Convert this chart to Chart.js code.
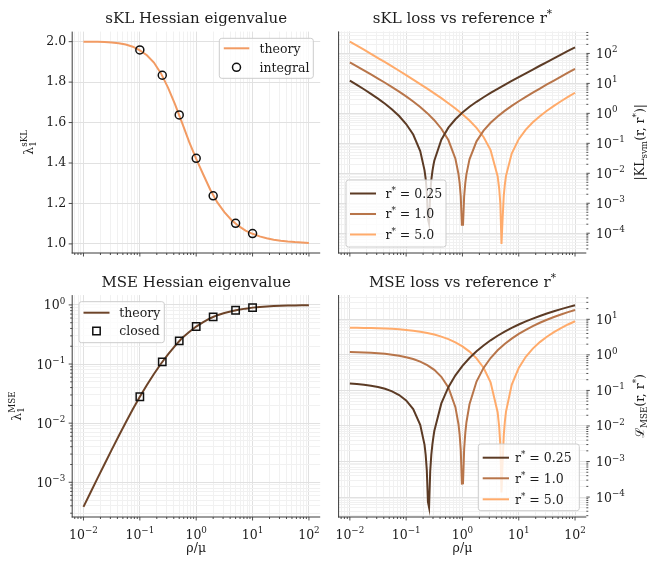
<!DOCTYPE html>
<html><head><meta charset="utf-8">
<script src="https://cdn.jsdelivr.net/npm/chart.js@4.4.1/dist/chart.umd.min.js"></script>
<style>
html,body{margin:0;padding:0;background:#ffffff;}
#wrap{position:relative;width:647px;height:563px;overflow:hidden;background:#fff;}
#wrap canvas{position:absolute;left:0;top:0;}
</style></head>
<body><div id="wrap">
<canvas id="cTL" width="647" height="563"></canvas>
<canvas id="cTR" width="647" height="563"></canvas>
<canvas id="cBL" width="647" height="563"></canvas>
<canvas id="cBR" width="647" height="563"></canvas>
</div>
<script>
// ---------------- data ----------------
const rhoGrid = [0.01, 0.01334, 0.01778, 0.02371, 0.03162, 0.04217, 0.05623, 0.07499, 0.1, 0.1334, 0.1778, 0.2371, 0.3162, 0.4217, 0.5623, 0.7499, 1, 1.334, 1.778, 2.371, 3.162, 4.217, 5.623, 7.499, 10, 13.34, 17.78, 23.71, 31.62, 42.17, 56.23, 74.99, 100];
const lamSKLTheory = [2.000, 1.999, 1.999, 1.998, 1.996, 1.992, 1.986, 1.975, 1.957, 1.933, 1.897, 1.843, 1.773, 1.690, 1.598, 1.505, 1.420, 1.343, 1.268, 1.205, 1.157, 1.118, 1.089, 1.066, 1.050, 1.037, 1.028, 1.021, 1.016, 1.012, 1.009, 1.007, 1.005];
const lamMSETheory = [0.000384, 0.000673, 0.001175, 0.00204, 0.00353, 0.00605, 0.01028, 0.01718, 0.028, 0.0442, 0.0679, 0.1012, 0.1452, 0.2032, 0.2748, 0.3483, 0.4305, 0.5105, 0.5957, 0.6699, 0.7295, 0.7816, 0.826, 0.865, 0.900, 0.925, 0.944, 0.958, 0.968, 0.976, 0.982, 0.987, 0.990];
const rhoMarkers = [0.1, 0.25, 0.5, 1, 2, 5, 10];
const lamSKLIntegral = [1.959, 1.834, 1.638, 1.423, 1.238, 1.102, 1.051];
const lamMSEClosed = [0.028, 0.109, 0.247, 0.431, 0.627, 0.813, 0.902];

const refValues = ['0.25', '1.0', '5.0'];

const rhoRef025 = [0.01, 0.01334, 0.01778, 0.02371, 0.03162, 0.04217, 0.05623, 0.07499, 0.1, 0.1334, 0.1778, 0.2122, 0.2222, 0.2327, 0.2437, 0.2553, 0.2674, 0.2800, 0.2933, 0.3072, 0.3162, 0.4217, 0.5623, 0.7499, 1, 1.334, 1.778, 2.371, 3.162, 4.217, 5.623, 7.499, 10, 13.34, 17.78, 23.71, 31.62, 42.17, 56.23, 74.99, 100];
const sklRef025 = [12.3, 8.90, 6.37, 4.49, 3.11, 2.09, 1.35, 0.817, 0.441, 0.196, 0.0551, 0.01254, 0.00646, 0.00238, 0.000298, 0.000204, 0.0021, 0.006, 0.01197, 0.02004, 0.0261, 0.1328, 0.333, 0.636, 1.069, 1.655, 2.43, 3.455, 4.8, 6.57, 8.94, 12.06, 16.16, 21.71, 29.05, 38.8, 51.7, 68.4, 90.9, 120.8, 159.3];
const mseRef025 = [0.1572, 0.1519, 0.145, 0.1362, 0.1252, 0.1112, 0.0942, 0.0744, 0.0523, 0.02996, 0.01073, 0.00294, 0.001535, 0.000574, 0.0000731, 0.0000507, 0.000532, 0.001556, 0.00316, 0.00539, 0.00721, 0.0431, 0.1235, 0.266, 0.4894, 0.8132, 1.2566, 1.8374, 2.567, 3.454, 4.507, 5.733, 7.136, 8.721, 10.487, 12.433, 14.558, 16.862, 19.344, 22.005, 24.842];

const rhoRef1 = [0.01, 0.01334, 0.01778, 0.02371, 0.03162, 0.04217, 0.05623, 0.07499, 0.1, 0.1334, 0.1778, 0.2371, 0.3162, 0.4217, 0.5623, 0.7499, 0.8504, 0.8907, 0.9329, 0.9771, 1.0234, 1.0719, 1.1227, 1.1759, 1.334, 1.778, 2.371, 3.162, 4.217, 5.623, 7.499, 10, 13.34, 17.78, 23.71, 31.62, 42.17, 56.23, 74.99, 100];
const sklRef1 = [50.5, 37.2, 27.4, 20.0, 14.53, 10.5, 7.52, 5.31, 3.69, 2.49, 1.634, 1.018, 0.591, 0.307, 0.1285, 0.0307, 0.00945, 0.00479, 0.001716, 0.00019, 0.00019, 0.001706, 0.00472, 0.00924, 0.0292, 0.1166, 0.2656, 0.484, 0.791, 1.207, 1.774, 2.531, 3.538, 4.909, 6.746, 9.19, 12.46, 16.81, 22.8, 30.7];
const mseRef1 = [1.2014, 1.1866, 1.1673, 1.1421, 1.1096, 1.0673, 1.0132, 0.9456, 0.8617, 0.7616, 0.6451, 0.5152, 0.3779, 0.2421, 0.1212, 0.03378, 0.01121, 0.00582, 0.002128, 0.0002405, 0.0002436, 0.002229, 0.0063, 0.01256, 0.04089, 0.1776, 0.4302, 0.8147, 1.3433, 2.0261, 2.872, 3.888, 5.079, 6.446, 7.989, 9.709, 11.606, 13.68, 15.931, 18.358];

const rhoRef5 = [0.01, 0.01334, 0.01778, 0.02371, 0.03162, 0.04217, 0.05623, 0.07499, 0.1, 0.1334, 0.1778, 0.2371, 0.3162, 0.4217, 0.5623, 0.7499, 1, 1.334, 1.778, 2.371, 3.162, 4.217, 4.5003, 4.7137, 4.9371, 5.1709, 5.416, 5.6726, 5.9411, 7.499, 10, 13.34, 17.78, 23.71, 31.62, 42.17, 56.23, 74.99, 100];
const sklRef5 = [249, 182.8, 133.3, 97.1, 70.2, 51.0, 36.7, 26.4, 18.85, 13.41, 9.48, 6.65, 4.65, 3.21, 2.17, 1.446, 0.936, 0.58, 0.33, 0.1632, 0.0593, 0.00798, 0.00304, 0.000956, 0.0000441, 0.000311, 0.001756, 0.00438, 0.00821, 0.0458, 0.1375, 0.2855, 0.502, 0.805, 1.219, 1.779, 2.531, 3.533, 4.874];
const mseRef5 = [5.814, 5.781, 5.738, 5.682, 5.61, 5.514, 5.39, 5.233, 5.033, 4.786, 4.487, 4.133, 3.724, 3.266, 2.767, 2.247, 1.7295, 1.2385, 0.7987, 0.4345, 0.1702, 0.02437, 0.00922, 0.0029, 0.0001347, 0.000952, 0.0054, 0.01352, 0.02536, 0.1441, 0.4313, 0.8808, 1.4974, 2.2843, 3.243, 4.375, 5.681, 7.163, 8.818];

// tick labels ("base^exponent")
const xTickValues = [0.01, 0.1, 1, 10, 100];
const xTickLabels = ['10^−2', '10^−1', '10^0', '10^1', '10^2'];
const lossTickValues = [1e-4, 1e-3, 1e-2, 1e-1, 1, 10, 100];
const lossTickLabels = ['10^−4', '10^−3', '10^−2', '10^−1', '10^0', '10^1', '10^2'];
const mseEigTickValues = [1e-3, 1e-2, 1e-1, 1];
const mseEigTickLabels = ['10^−3', '10^−2', '10^−1', '10^0'];
const sklEigTickValues = [1.0, 1.2, 1.4, 1.6, 1.8, 2.0];
const sklEigTickLabels = ['1.0', '1.2', '1.4', '1.6', '1.8', '2.0'];

// ---------------- styles ----------------
const FONT = '"DejaVu Serif", "Liberation Serif", serif';
const TXT = '#1c1c1c';
const SPINE = '#3a3a3a';
const GRID_MAJOR = '#e1e1e1';
const GRID_MINOR = '#f1f1f1';
const C_SKL = '#f29b63';
const C_MSE = '#6d4429';
const C_REF = ['#5c3b25', '#b8754a', '#ffab6b'];
const FS = 12.5, FS_SMALL = 8.75, FS_TITLE = 15;
const X_MIN = 0.00631, X_MAX = 158.5;

const pts = (xs, ys) => xs.map((x, i) => ({ x: x, y: ys[i] }));
function labelFor(values, labels) {
  return v => {
    const i = values.findIndex(t => Math.abs(t - v) <= 1e-6 * Math.abs(t));
    return i >= 0 ? labels[i] : '';
  };
}
function logTickObjs(min, max) {
  const out = [];
  for (let k = Math.floor(Math.log10(min)); k <= Math.floor(Math.log10(max)); k++) {
    for (let m = 1; m <= 9; m++) {
      const v = m * Math.pow(10, k);
      if (v >= min && v <= max) out.push({ value: v, minor: m !== 1 });
    }
  }
  return out;
}
function strokeLine(c, x1, y1, x2, y2) { c.beginPath(); c.moveTo(x1, y1); c.lineTo(x2, y2); c.stroke(); }
function drawRich(c, runs, x, y, align, rot) {
  c.save();
  c.translate(x, y);
  if (rot) c.rotate(rot);
  c.fillStyle = TXT; c.textBaseline = 'alphabetic'; c.textAlign = 'left';
  const ws = runs.map(r => { c.font = (r.s || FS) + 'px ' + FONT; return c.measureText(r.t).width; });
  let total = 0;
  runs.forEach((r, i) => { if (!r.hold) total += ws[i]; });
  let cx = align === 'center' ? -total / 2 : (align === 'right' ? -total : 0);
  runs.forEach((r, i) => {
    c.font = (r.s || FS) + 'px ' + FONT;
    c.fillText(r.t, cx, r.dy || 0);
    if (!r.hold) cx += ws[i];
  });
  c.restore();
}
function powRuns(label) {
  const parts = label.split('^');
  return parts.length === 2 ? [{ t: parts[0] }, { t: parts[1], s: FS_SMALL, dy: -5.5 }] : [{ t: label }];
}
function legendBox(c, x, y, w, h) {
  c.save();
  c.beginPath();
  c.roundRect(x, y, w, h, 2.5);
  c.fillStyle = 'rgba(255,255,255,0.8)';
  c.fill();
  c.strokeStyle = '#cccccc'; c.lineWidth = 1;
  c.stroke();
  c.restore();
}
function lineSample(c, x1, x2, y, color) {
  c.save(); c.strokeStyle = color; c.lineWidth = 2; strokeLine(c, x1, y, x2, y); c.restore();
}
function markerSample(c, x, y, style) {
  c.save(); c.strokeStyle = '#111'; c.lineWidth = 1.5; c.beginPath();
  if (style === 'rect') c.rect(x - 3.7, y - 3.7, 7.4, 7.4); else c.arc(x, y, 4, 0, Math.PI * 2);
  c.stroke(); c.restore();
}
const refRuns = v => [{ t: 'r' }, { t: '*', s: FS_SMALL, dy: -5 }, { t: ' = ' + v }];

function decor(o) {
  return {
    id: 'decor',
    afterDraw(chart) {
      const c = chart.ctx, A = chart.chartArea, xs = chart.scales.x, ys = chart.scales.y;
      c.save();
      c.strokeStyle = SPINE; c.lineWidth = 1;
      strokeLine(c, A.left, A.top, A.left, A.bottom + 0.5);
      strokeLine(c, A.left - 0.5, A.bottom, A.right, A.bottom);
      c.lineWidth = 0.9;
      xs.ticks.forEach(t => {
        const p = xs.getPixelForValue(t.value);
        strokeLine(c, p, A.bottom, p, A.bottom + (t.minor ? 2 : 3.5));
      });
      ys.ticks.forEach(t => {
        const p = ys.getPixelForValue(t.value);
        const L = t.minor ? 2 : 3.5;
        if (o.yPos === 'right') strokeLine(c, A.right, p, A.right + L, p);
        else strokeLine(c, A.left - L, p, A.left, p);
      });
      // tick labels with real superscripts, placed through the scales
      if (o.xLabels) {
        xTickValues.forEach((v, i) => {
          if (v < xs.min || v > xs.max) return;
          drawRich(c, powRuns(xTickLabels[i]), xs.getPixelForValue(v), A.bottom + 21.5, 'center', 0);
        });
      }
      if (o.yType === 'logarithmic') {
        o.yTickValues.forEach((v, i) => {
          if (v < ys.min || v > ys.max) return;
          const p = ys.getPixelForValue(v);
          if (o.yPos === 'right') drawRich(c, powRuns(o.yTickLabels[i]), A.right + 9.7, p + 4.5, 'left', 0);
          else drawRich(c, powRuns(o.yTickLabels[i]), A.left - 7, p + 4.5, 'right', 0);
        });
      }
      const cx = (A.left + A.right) / 2, cy = (A.top + A.bottom) / 2;
      drawRich(c, o.title, cx, o.titleY, 'center', 0);
      if (o.xLabel) drawRich(c, [{ t: 'ρ/μ' }], cx, 552, 'center', 0);
      drawRich(c, o.yLabel, o.yLabelX, cy, 'center', -Math.PI / 2);
      o.legend(c, chart.data.datasets);
      c.restore();
    }
  };
}

function panel(id, o) {
  const A = o.area, YW = 40, XH = 30;
  const right = o.yPos === 'right';
  const padding = {
    left: right ? A.l : A.l - YW,
    right: right ? 647 - A.r - YW : 647 - A.r,
    top: A.t,
    bottom: 563 - A.b - XH
  };
  const yLab = labelFor(o.yTickValues, o.yTickLabels);
  new Chart(document.getElementById(id), {
    type: 'line',
    data: { datasets: o.datasets },
    options: {
      responsive: false, animation: false, devicePixelRatio: 1, events: [],
      layout: { padding: padding, autoPadding: false },
      plugins: { legend: { display: false }, tooltip: { enabled: false }, title: { display: false } },
      elements: { point: { hoverRadius: 0 } },
      scales: {
        x: {
          type: 'logarithmic', position: 'bottom', min: X_MIN, max: X_MAX,
          afterBuildTicks: s => { s.ticks = logTickObjs(X_MIN, X_MAX); },
          afterFit: s => { s.height = XH; },
          border: { display: false },
          grid: { drawTicks: false, lineWidth: 1, color: c => (c.tick && c.tick.minor) ? GRID_MINOR : GRID_MAJOR },
          ticks: { autoSkip: false, maxRotation: 0, minRotation: 0, padding: 10, color: TXT,
                   font: { family: FONT, size: FS }, callback: () => '' }
        },
        y: {
          type: o.yType, position: o.yPos, min: o.yMin, max: o.yMax,
          afterBuildTicks: s => {
            s.ticks = o.yType === 'logarithmic' ? logTickObjs(o.yMin, o.yMax) : o.yTickValues.map(v => ({ value: v, minor: false }));
          },
          afterFit: s => { s.width = YW; },
          border: { display: false },
          grid: { drawTicks: false, lineWidth: 1, color: c => (c.tick && c.tick.minor) ? GRID_MINOR : GRID_MAJOR },
          ticks: { autoSkip: false, padding: o.yPad, color: TXT, font: { family: FONT, size: FS },
                   callback: v => o.yType === 'logarithmic' ? '' : yLab(v) }
        }
      }
    },
    plugins: [decor(o)]
  });
}

const lineDs = (label, xs, ys, color) => ({
  type: 'line', label: label, data: pts(xs, ys), borderColor: color, backgroundColor: color,
  borderWidth: 2, pointRadius: 0, tension: 0, order: 1
});
const markDs = (label, xs, ys, style, r) => ({
  type: 'scatter', label: label, data: pts(xs, ys), pointStyle: style, pointRadius: r,
  borderColor: '#111', borderWidth: 1.5, backgroundColor: 'rgba(0,0,0,0)', showLine: false, order: 0
});

// ---- top-left: sKL Hessian eigenvalue
panel('cTL', {
  area: { l: 72.2, r: 320.2, t: 31.6, b: 253.0 },
  yType: 'linear', yPos: 'left', yMin: 0.955, yMax: 2.0498, yPad: 6,
  yTickValues: sklEigTickValues, yTickLabels: sklEigTickLabels, xLabels: false,
  datasets: [lineDs('theory', rhoGrid, lamSKLTheory, C_SKL), markDs('integral', rhoMarkers, lamSKLIntegral, 'circle', 4)],
  title: [{ t: 'sKL Hessian eigenvalue', s: FS_TITLE }], titleY: 22.5,
  yLabel: [{ t: 'λ' }, { t: '1', s: FS_SMALL, dy: 3, hold: true }, { t: 'sKL', s: FS_SMALL, dy: -6 }], yLabelX: 33,
  legend: (c, ds) => {
    legendBox(c, 219.3, 38.3, 94, 40);
    lineSample(c, 223.8, 249.3, 48.3, ds[0].borderColor);
    drawRich(c, [{ t: ds[0].label }], 259.5, 52.5, 'left');
    markerSample(c, 236.5, 67.3, 'circle');
    drawRich(c, [{ t: ds[1].label }], 259.5, 71.5, 'left');
  }
});

// ---- top-right: sKL loss vs reference r*
panel('cTR', {
  area: { l: 338.6, r: 586.3, t: 31.4, b: 253.0 },
  yType: 'logarithmic', yPos: 'right', yMin: 2.188e-5, yMax: 543.3, yPad: 10,
  yTickValues: lossTickValues, yTickLabels: lossTickLabels, xLabels: false,
  datasets: [lineDs(refValues[0], rhoRef025, sklRef025, C_REF[0]), lineDs(refValues[1], rhoRef1, sklRef1, C_REF[1]), lineDs(refValues[2], rhoRef5, sklRef5, C_REF[2])],
  title: [{ t: 'sKL loss vs reference r', s: FS_TITLE }, { t: '*', s: 10.5, dy: -6 }], titleY: 22.5,
  yLabel: [{ t: '|KL' }, { t: 'sym', s: FS_SMALL, dy: 3 }, { t: '(r, r' }, { t: '*', s: FS_SMALL, dy: -5 }, { t: ')|' }], yLabelX: 643.5,
  legend: (c, ds) => {
    legendBox(c, 346, 180, 100, 67);
    [193.5, 214, 234.5].forEach((y, i) => {
      lineSample(c, 350, 376, y, ds[i].borderColor);
      drawRich(c, refRuns(ds[i].label), 385.5, y + 4.2, 'left');
    });
  }
});

// ---- bottom-left: MSE Hessian eigenvalue
panel('cBL', {
  area: { l: 72.2, r: 320.2, t: 295.1, b: 517.0 },
  yType: 'logarithmic', yPos: 'left', yMin: 2.588e-4, yMax: 1.4655, yPad: 7,
  yTickValues: mseEigTickValues, yTickLabels: mseEigTickLabels, xLabels: true, xLabel: true,
  datasets: [lineDs('theory', rhoGrid, lamMSETheory, C_MSE), markDs('closed', rhoMarkers, lamMSEClosed, 'rect', 5.2)],
  title: [{ t: 'MSE Hessian eigenvalue', s: FS_TITLE }], titleY: 286.5,
  yLabel: [{ t: 'λ' }, { t: '1', s: FS_SMALL, dy: 3, hold: true }, { t: 'MSE', s: FS_SMALL, dy: -6 }], yLabelX: 20.5,
  legend: (c, ds) => {
    legendBox(c, 79, 301.7, 85.3, 41);
    lineSample(c, 83.5, 109.5, 312.7, ds[0].borderColor);
    drawRich(c, [{ t: ds[0].label }], 119.3, 316.9, 'left');
    markerSample(c, 96.5, 331, 'rect');
    drawRich(c, [{ t: ds[1].label }], 119.3, 335.2, 'left');
  }
});

// ---- bottom-right: MSE loss vs reference r*
panel('cBR', {
  area: { l: 338.6, r: 586.3, t: 295.0, b: 517.0 },
  yType: 'logarithmic', yPos: 'right', yMin: 2.754e-5, yMax: 48.31, yPad: 10,
  yTickValues: lossTickValues, yTickLabels: lossTickLabels, xLabels: true, xLabel: true,
  datasets: [lineDs(refValues[0], rhoRef025, mseRef025, C_REF[0]), lineDs(refValues[1], rhoRef1, mseRef1, C_REF[1]), lineDs(refValues[2], rhoRef5, mseRef5, C_REF[2])],
  title: [{ t: 'MSE loss vs reference r', s: FS_TITLE }, { t: '*', s: 10.5, dy: -6 }], titleY: 286.5,
  yLabel: [{ t: 'ℒ' }, { t: 'MSE', s: FS_SMALL, dy: 3 }, { t: '(r, r' }, { t: '*', s: FS_SMALL, dy: -5 }, { t: ')' }], yLabelX: 643.5,
  legend: (c, ds) => {
    legendBox(c, 478.3, 444, 101, 66.7);
    [457.7, 478.3, 499.3].forEach((y, i) => {
      lineSample(c, 482.7, 509, y, ds[i].borderColor);
      drawRich(c, refRuns(ds[i].label), 515, y + 4.2, 'left');
    });
  }
});
</script>
</body></html>
